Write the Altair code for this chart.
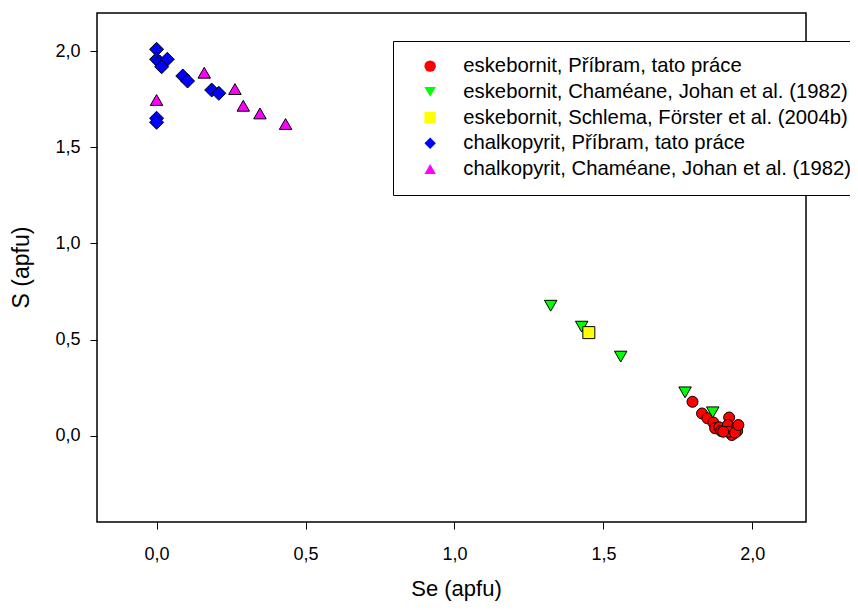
import altair as alt
import pandas as pd

series_names = [
    "eskebornit, Příbram, tato práce",
    "eskebornit, Chaméane, Johan et al. (1982)",
    "eskebornit, Schlema, Förster et al. (2004b)",
    "chalkopyrit, Příbram, tato práce",
    "chalkopyrit, Chaméane, Johan et al. (1982)",
]
fills = ["#FF0000", "#00FF00", "#FFFF00", "#0000FF", "#FF00FF"]
shapes = ["circle", "triangle-down", "square", "diamond", "triangle-up"]
sizes = [121, 156, 144, 196, 156]

esk_pri_x = [1.799, 1.831, 1.849, 1.869, 1.875, 1.889, 1.895, 1.922, 1.918, 1.931, 1.919, 1.949, 1.949, 1.942, 1.953, 1.902]
esk_pri_y = [0.176, 0.115, 0.090, 0.068, 0.038, 0.043, 0.024, 0.094, 0.055, 0.003, 0.020, 0.046, 0.024, 0.015, 0.055, 0.020]

esk_cha_x = [1.323, 1.427, 1.558, 1.774, 1.867]
esk_cha_y = [0.676, 0.567, 0.411, 0.225, 0.121]

esk_sch_x = [1.451]
esk_sch_y = [0.536]

chal_pri_x = [0.000, 0.000, 0.010, 0.036, 0.017, 0.088, 0.104, 0.185, 0.209, 0.000, 0.000]
chal_pri_y = [2.011, 1.959, 1.945, 1.959, 1.920, 1.872, 1.846, 1.799, 1.782, 1.652, 1.631]

chal_cha_x = [0.160, 0.263, 0.000, 0.291, 0.347, 0.433]
chal_cha_y = [1.889, 1.804, 1.747, 1.717, 1.677, 1.622]

x_ticks = [0.0, 0.5, 1.0, 1.5, 2.0]
y_ticks = [0.0, 0.5, 1.0, 1.5, 2.0]

rows = []
for name, xs, ys in zip(
    series_names,
    [esk_pri_x, esk_cha_x, esk_sch_x, chal_pri_x, chal_cha_x],
    [esk_pri_y, esk_cha_y, esk_sch_y, chal_pri_y, chal_cha_y],
):
    for xv, yv in zip(xs, ys):
        rows.append({"series": name, "Se": xv, "S": yv})
df = pd.DataFrame(rows)

label_expr = "replace(format(datum.value, '.1f'), '.', ',')"
FONT = "Liberation Sans"

legend = alt.Legend(
    title=None,
    orient="none",
    legendX=296,
    legendY=28,
    labelFont=FONT,
    labelFontSize=20.3,
    labelColor="black",
    labelLimit=0,
    labelOffset=23,
    symbolOffset=12,
    symbolSize=130,
    rowPadding=4.7,
    padding=15,
    strokeColor="black",
    fillColor="white",
    cornerRadius=0,
    symbolStrokeColor="black",
    symbolStrokeWidth=1,
    symbolOpacity=1,
)

x_enc = alt.X(
    "Se:Q",
    scale=alt.Scale(domain=[-0.2, 2.18], nice=False, zero=False),
    axis=alt.Axis(
        values=x_ticks,
        title="Se (apfu)",
        labelExpr=label_expr,
        grid=False,
        domain=False,
        tickSize=7,
        tickColor="black",
        labelPadding=16,
        labelFont=FONT,
        labelFontSize=18,
        labelColor="black",
        titleFont=FONT,
        titleFontSize=22,
        titleFontWeight="normal",
        titleColor="black",
        titleX=359,
        titleY=56,
        titleBaseline="top",
        titleAlign="center",
    ),
)
y_enc = alt.Y(
    "S:Q",
    scale=alt.Scale(domain=[-0.45, 2.2], nice=False, zero=False),
    axis=alt.Axis(
        values=y_ticks,
        title="S (apfu)",
        labelExpr=label_expr,
        grid=False,
        domain=False,
        tickSize=7,
        tickColor="black",
        labelPadding=10,
        labelFont=FONT,
        labelFontSize=18,
        labelColor="black",
        titleFont=FONT,
        titleFontSize=23,
        titleFontWeight="normal",
        titleColor="black",
        titleX=-64,
        titleY=254,
        titleAngle=270,
        titleBaseline="bottom",
        titleAlign="center",
    ),
)
fill_enc = alt.Fill("series:N", scale=alt.Scale(domain=series_names, range=fills), legend=legend)
shape_enc = alt.Shape("series:N", scale=alt.Scale(domain=series_names, range=shapes), legend=legend)

base = alt.Chart(df)
layers = []
for name, sz in zip(series_names, sizes):
    layers.append(
        base.transform_filter(alt.datum.series == name)
        .mark_point(filled=True, stroke="black", strokeWidth=1, opacity=1, size=sz)
        .encode(x=x_enc, y=y_enc, fill=fill_enc, shape=shape_enc)
    )

chart = (
    alt.layer(*layers)
    .properties(
        width=709,
        height=509,
        padding={"left": 89, "top": 5, "right": 44, "bottom": 80},
        autosize=alt.AutoSizeParams(type="none"),
    )
    .configure(background="white")
    .configure_view(stroke="black", strokeWidth=1.5)
)

chart.save("out.html", embed_options={"renderer": "svg", "actions": False})
